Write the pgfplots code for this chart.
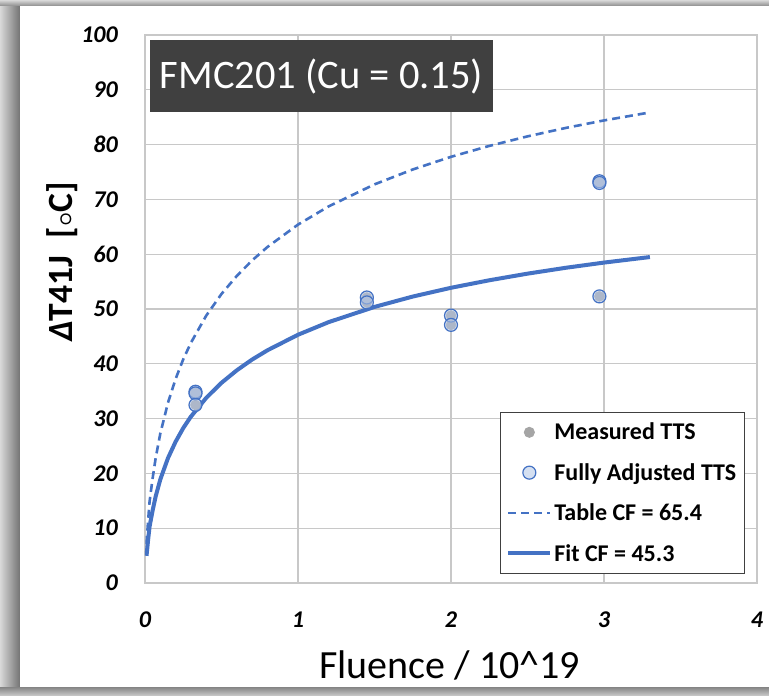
\documentclass[border=0pt]{standalone}
\usepackage{pgfplots}
\pgfplotsset{compat=1.18}
\usepackage{fontspec}
\setmainfont{Carlito}
\definecolor{xblue}{HTML}{4472C4}
\definecolor{xlight}{HTML}{B4C7E7}
\definecolor{xgray}{HTML}{A5A5A5}
\definecolor{xgrid}{HTML}{C8C8C8}
\definecolor{xdark}{HTML}{404040}
\begin{document}
\begin{tikzpicture}
\useasboundingbox (-145pt,-113pt) rectangle (624pt,583pt);
\fill[white] (-145pt,-113pt) rectangle (624pt,583pt);
\shade[left color=black!15, right color=black!55] (-145pt,-105pt) rectangle (-125pt,577pt);
\shade[top color=black!15, bottom color=black!45] (-145pt,577pt) rectangle (624pt,583pt);
\shade[top color=black!45, bottom color=black!20] (-145pt,-113pt) rectangle (624pt,-105pt);
\begin{axis}[
  at={(0pt,0pt)}, anchor=south west,
  scale only axis, width=612pt, height=548pt,
  xmin=0, xmax=4, ymin=0, ymax=100,
  xtick={0,1,2,3,4}, ytick={0,10,...,100},
  grid=major,
  major grid style={xgrid, line width=1.3pt},
  axis line style={xgrid, line width=1.3pt},
  major tick length=0pt,
  /pgf/number format/assume math mode=true,
  ticklabel style={font=\fontsize{24}{26}\selectfont\bfseries\itshape},
  xticklabel style={anchor=center, yshift=-37pt},
  yticklabel style={anchor=east, inner sep=0pt, xshift=-27pt},
  xlabel={Fluence / 10\^{}19},
  xlabel style={font=\fontsize{40}{42}\selectfont, at={(axis description cs:0.498,-0.151)}, anchor=center},
  ylabel={\textit{Δ}T41J\enspace[{\boldmath$\circ$}C]},
  ylabel style={font=\fontsize{35.5}{37}\selectfont\bfseries, at={(axis description cs:-0.136,0.586)}, anchor=center, rotate=0},
  legend style={at={(axis description cs:0.980,0.0164)}, anchor=south east,
    draw=xdark, line width=1pt, font=\fontsize{24}{26}\selectfont\bfseries,
    row sep=18pt, inner xsep=6pt, inner ysep=9pt, cells={anchor=west}},
  legend image code/.code={\draw[mark repeat=2,mark phase=2,#1] plot coordinates {(0pt,0pt) (21pt,0pt) (42pt,0pt)};},
]
% Table CF = 65.4
\addplot[xblue, line width=2.6pt, dash pattern=on 8pt off 5pt, forget plot] coordinates {
(0.01,7.17) (0.02,11.25) (0.03,14.88) (0.05,19.14) (0.07,22.85) (0.1,27.27) (0.15,32.88)
(0.2,37.23) (0.25,40.82) (0.3,43.83) (0.4,48.78) (0.5,52.75) (0.6,56.03) (0.7,58.86)
(0.8,61.31) (1,65.40) (1.2,68.72) (1.5,72.74) (1.75,75.46) (2,77.77) (2.25,79.76)
(2.5,81.50) (2.75,83.04) (3,84.41) (3.3,85.87)};
% Fit CF = 45.3
\addplot[xblue, line width=4pt, forget plot] coordinates {
(0.01,4.96) (0.02,7.79) (0.03,10.31) (0.05,13.26) (0.07,15.83) (0.1,18.89) (0.15,22.78)
(0.2,25.78) (0.25,28.27) (0.3,30.36) (0.4,33.78) (0.5,36.53) (0.6,38.81) (0.7,40.77)
(0.8,42.46) (1,45.30) (1.2,47.60) (1.5,50.38) (1.75,52.27) (2,53.87) (2.25,55.24)
(2.5,56.45) (2.75,57.52) (3,58.47) (3.3,59.48)};
% Measured TTS
\addplot[only marks, mark=*, mark size=5pt, mark options={fill=xgray, draw=xgray}] coordinates {
(0.33,34.9) (0.33,34.6) (0.33,32.5) (1.45,52.1) (1.45,51.2) (2.0,48.8) (2.0,47.1)
(2.97,73.3) (2.97,73.0) (2.97,52.3)};
\addlegendentry{Measured TTS}
% Fully Adjusted TTS
\addplot[only marks, mark=*, mark size=6.5pt, mark options={fill=xlight, fill opacity=0.55, draw=xblue, line width=1.2pt}] coordinates {
(0.33,34.9) (0.33,34.6) (0.33,32.5) (1.45,52.1) (1.45,51.2) (2.0,48.8) (2.0,47.1)
(2.97,73.3) (2.97,73.0) (2.97,52.3)};
\addlegendentry{Fully Adjusted TTS}
\addlegendimage{xblue, line width=2.6pt, dash pattern=on 8pt off 5pt}
\addlegendentry{Table CF = 65.4}
\addlegendimage{xblue, line width=4pt}
\addlegendentry{Fit CF = 45.3}
\node[fill=xdark, text=white, font=\fontsize{40.5}{43}\selectfont, minimum width=343pt, minimum height=72pt, inner sep=0pt] at (axis cs:1.154,92.5) {FMC201 (Cu = 0.15)};
\end{axis}
\end{tikzpicture}
\end{document}
